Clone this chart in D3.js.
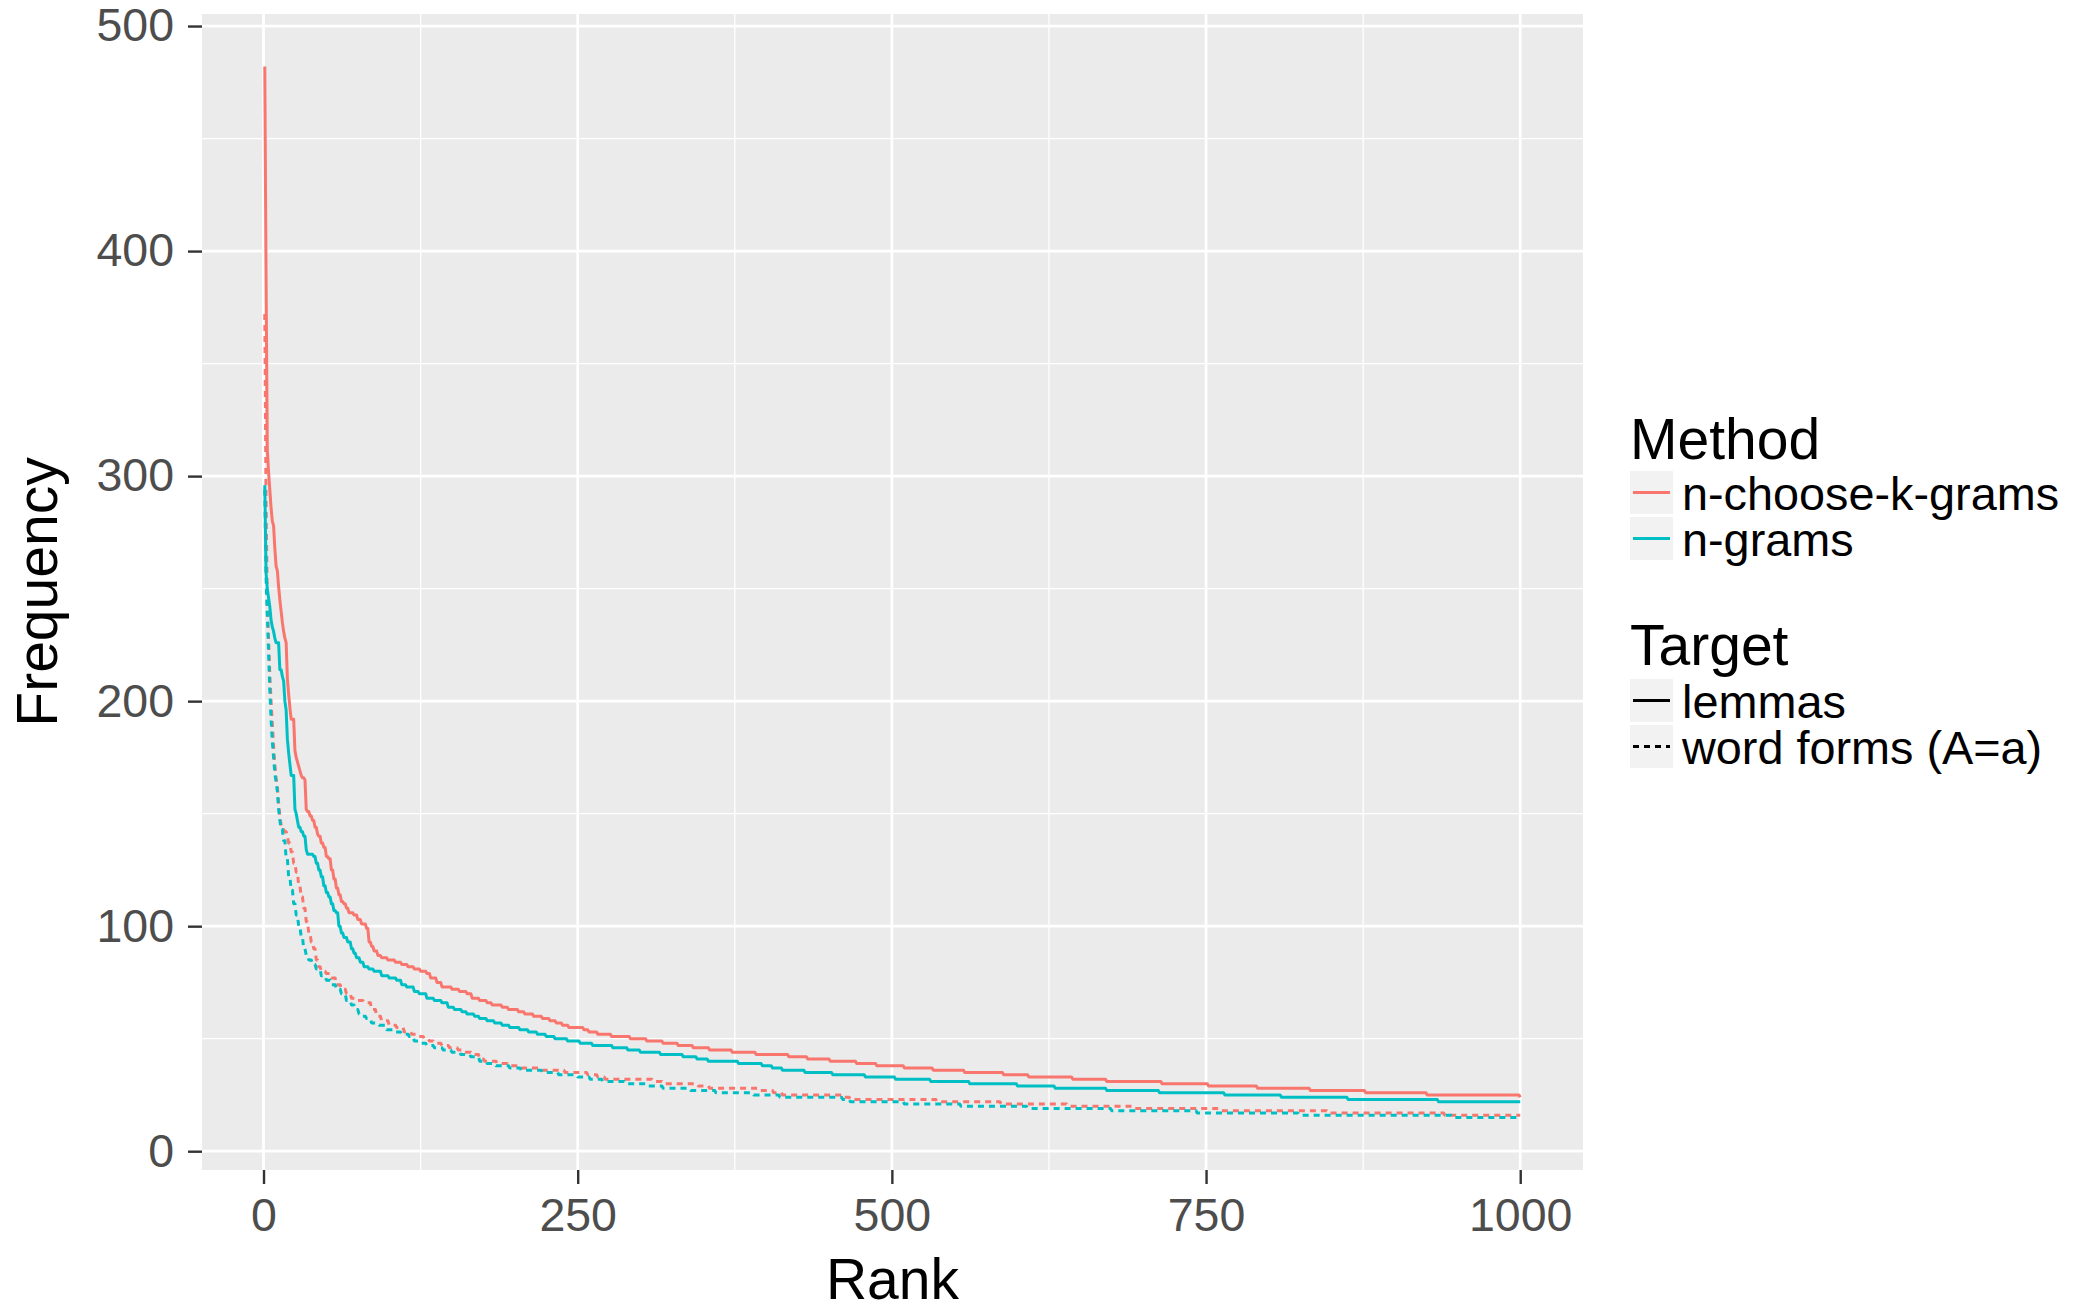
<!DOCTYPE html>
<html>
<head>
<meta charset="utf-8">
<script src="https://cdn.jsdelivr.net/npm/d3@7"></script>
<style>
  html, body { margin: 0; padding: 0; background: #ffffff; }
  svg { display: block; font-family: "Liberation Sans", Arial, Helvetica, sans-serif; }
</style>
</head>
<body>
<svg id="chart" width="2085" height="1307"></svg>
<script>
// Rank-frequency curves: each entry is [rank, frequency] at the rank where the frequency changes.
const ncgLemmas = [[1,482],[2,390],[3,312],[4,302],[5,294],[6,286],[7,280],[8,278],[9,268],[10,260],[11,258],[12,251],[13,245],[14,240],[15,235],[16,231],[17,228],[18,226],[19,210],[20,203],[21,197],[22,192],[25,178],[26,175],[27,173],[28,171],[29,169],[30,167],[31,166],[33,165],[34,152],[35,151],[37,149],[39,147],[41,144],[43,141],[44,140],[46,137],[48,135],[50,131],[52,130],[54,125],[56,121],[58,117],[60,114],[62,111],[64,110],[66,108],[68,106],[72,105],[75,103],[78,101],[82,99],[84,93],[86,91],[88,89],[91,87],[94,86],[99,85],[105,84],[110,83],[115,82],[120,81],[125,80],[130,79],[133,77],[138,75],[142,73],[150,72],[156,71],[162,70],[166,68],[172,67],[178,66],[182,65],[190,64],[195,63],[203,62],[208,61],[215,60],[222,59],[228,58],[233,57],[238,56],[243,55],[255,54],[259,53],[266,52],[277,51],[292,50],[305,49],[318,48],[330,47],[342,46],[355,45],[373,44],[392,43],[418,42],[433,41],[451,40],[472,39],[488,38],[510,37],[533,36],[558,35],[589,34],[609,33],[644,32],[671,31],[715,30],[752,29],[791,28],[833,27],[877,26],[926,25],[1000,24]];

const ncgForms = [[1,372],[2,290],[3,245],[4,228],[5,212],[6,200],[7,190],[8,180],[9,172],[10,166],[11,162],[12,155],[13,149],[14,145],[15,143],[17,142],[19,140],[20,137],[22,133],[24,128],[26,124],[28,118],[30,113],[32,108],[34,102],[36,97],[38,93],[40,90],[42,85],[44,82],[46,80],[50,79],[54,77],[58,74],[62,72],[66,70],[70,68],[74,67],[80,66],[86,63],[90,60],[94,58],[100,56],[106,55],[112,53],[118,52],[122,51],[128,50],[132,49],[136,48],[142,47],[148,46],[155,45],[160,44],[166,43],[172,41],[176,40],[186,39],[195,38],[205,37],[222,36],[240,35],[258,34],[266,33],[272,32],[310,31],[318,30],[346,29],[355,28],[395,27],[406,26],[413,25],[461,24],[467,23],[536,22],[587,21],[640,20],[693,19],[761,18],[847,17],[940,16],[1000,16]];

const ngLemmas = [[1,296],[2,257],[3,250],[4,246],[5,242],[6,236],[7,233],[8,231],[9,228],[10,226],[13,214],[15,211],[16,209],[17,200],[18,196],[19,183],[20,177],[21,172],[22,167],[25,152],[26,150],[27,147],[28,144],[30,142],[32,140],[34,134],[35,132],[40,131],[42,128],[44,125],[46,122],[48,118],[50,115],[52,113],[54,110],[56,107],[58,106],[60,100],[62,97],[64,95],[67,93],[70,90],[72,88],[74,86],[77,84],[80,82],[84,81],[88,80],[94,78],[100,77],[106,76],[110,74],[114,73],[120,71],[124,70],[130,68],[136,67],[142,66],[147,64],[152,63],[158,62],[162,61],[168,60],[172,59],[178,58],[184,57],[190,56],[196,55],[204,54],[211,53],[218,52],[225,51],[232,50],[242,49],[252,48],[262,47],[278,46],[290,45],[300,44],[316,43],[334,42],[345,41],[354,40],[378,39],[397,38],[405,37],[413,36],[431,35],[453,34],[479,33],[503,32],[531,31],[562,30],[600,29],[630,28],[671,27],[713,26],[765,25],[810,24],[863,23],[935,22],[1000,22]];

const ngForms = [[1,294],[2,255],[3,238],[4,222],[5,205],[6,192],[7,182],[8,175],[9,168],[10,164],[11,160],[12,152],[13,147],[14,143],[16,138],[18,130],[20,122],[22,116],[24,110],[26,105],[28,100],[30,95],[32,90],[34,87],[36,85],[39,83],[42,81],[46,78],[50,76],[54,74],[58,72],[62,70],[66,67],[70,65],[73,63],[76,61],[79,60],[82,59],[86,57],[92,56],[98,54],[104,53],[110,52],[116,51],[120,49],[124,48],[130,47],[136,46],[143,45],[150,44],[157,43],[165,42],[172,40],[178,39],[185,38],[196,37],[205,36],[222,35],[235,34],[250,33],[260,32],[270,31],[288,30],[305,29],[318,28],[340,27],[360,26],[390,25],[411,24],[461,23],[467,22],[510,21],[555,20],[608,19],[675,18],[743,17],[824,16],[946,15],[1000,15]];

const xTicks = [0, 250, 500, 750, 1000];
const yTicks = [0, 100, 200, 300, 400, 500];
const xMinor = [125, 375, 625, 875];
const yMinor = [50, 150, 250, 350, 450];

const methods = ["n-choose-k-grams", "n-grams"];
const targets = ["lemmas", "word forms (A=a)"];
const methodColors = ["#F8766D", "#00BFC4"];
const targetDash = [null, "6,5"];

const series = [
  { data: ncgLemmas, method: 0, target: 0 },
  { data: ncgForms,  method: 0, target: 1 },
  { data: ngLemmas,  method: 1, target: 0 },
  { data: ngForms,   method: 1, target: 1 }
];

// Layout
const panel = { left: 202, right: 1583, top: 14, bottom: 1170 };
const axisTextSize = 46.5, titleSize = 57, legendTextSize = 46.8;

const svg = d3.select("#chart");
svg.append("rect").attr("width", 2085).attr("height", 1307).attr("fill", "#ffffff");

// Scales with 5% expansion on both axes
const allPts = series.flatMap(s => s.data);
const xExt = [1, 1000];
const yExt = d3.extent(allPts, d => d[1]);
const xPad = (xExt[1] - xExt[0]) * 0.05, yPad = (yExt[1] - yExt[0]) * 0.05;
const x = d3.scaleLinear().domain([xExt[0] - xPad, xExt[1] + xPad]).range([panel.left, panel.right]);
const y = d3.scaleLinear().domain([yExt[0] - yPad, yExt[1] + yPad]).range([panel.bottom, panel.top]);

// Panel background and grid
svg.append("rect")
  .attr("x", panel.left).attr("y", panel.top)
  .attr("width", panel.right - panel.left).attr("height", panel.bottom - panel.top)
  .attr("fill", "#EBEBEB");

const grid = svg.append("g");
grid.selectAll(".ymin").data(yMinor).join("line")
  .attr("x1", panel.left).attr("x2", panel.right)
  .attr("y1", d => y(d)).attr("y2", d => y(d))
  .attr("stroke", "#ffffff").attr("stroke-width", 1.3);
grid.selectAll(".xmin").data(xMinor).join("line")
  .attr("y1", panel.top).attr("y2", panel.bottom)
  .attr("x1", d => x(d)).attr("x2", d => x(d))
  .attr("stroke", "#ffffff").attr("stroke-width", 1.3);
grid.selectAll(".ymaj").data(yTicks).join("line")
  .attr("x1", panel.left).attr("x2", panel.right)
  .attr("y1", d => y(d)).attr("y2", d => y(d))
  .attr("stroke", "#ffffff").attr("stroke-width", 2.7);
grid.selectAll(".xmaj").data(xTicks).join("line")
  .attr("y1", panel.top).attr("y2", panel.bottom)
  .attr("x1", d => x(d)).attr("x2", d => x(d))
  .attr("stroke", "#ffffff").attr("stroke-width", 2.7);

// Expand change points into consecutive-rank segments (value holds until the next change)
function stepPoints(pts) {
  const out = [pts[0]];
  for (let i = 1; i < pts.length; i++) {
    const prev = pts[i - 1], cur = pts[i];
    if (cur[0] - 1 > prev[0]) out.push([cur[0] - 1, prev[1]]);
    out.push(cur);
  }
  return out;
}

const line = d3.line().x(d => x(d[0])).y(d => y(d[1]));

svg.append("clipPath").attr("id", "panelClip")
  .append("rect").attr("x", panel.left).attr("y", panel.top)
  .attr("width", panel.right - panel.left).attr("height", panel.bottom - panel.top);

const linesG = svg.append("g").attr("clip-path", "url(#panelClip)");
linesG.selectAll("path").data(series).join("path")
  .attr("d", s => line(stepPoints(s.data)))
  .attr("fill", "none")
  .attr("stroke", s => methodColors[s.method])
  .attr("stroke-width", 3)
  .attr("stroke-linejoin", "round")
  .attr("stroke-dasharray", s => targetDash[s.target]);

// Axes
const xAxis = d3.axisBottom(x).tickValues(xTicks).tickSize(14).tickPadding(14).tickFormat(d3.format("d"));
const yAxis = d3.axisLeft(y).tickValues(yTicks).tickSize(14).tickPadding(14).tickFormat(d3.format("d"));

const gx = svg.append("g").attr("transform", `translate(0,${panel.bottom})`).call(xAxis);
const gy = svg.append("g").attr("transform", `translate(${panel.left},0)`).call(yAxis);
[gx, gy].forEach(g => {
  g.select(".domain").remove();
  g.selectAll(".tick line").attr("stroke", "#333333").attr("stroke-width", 2.4);
  g.selectAll(".tick text")
    .attr("fill", "#4D4D4D")
    .style("font-size", axisTextSize + "px")
    .style("font-family", "'Liberation Sans', Arial, Helvetica, sans-serif");
});

// Axis titles
svg.append("text")
  .attr("x", (panel.left + panel.right) / 2).attr("y", 1299)
  .attr("text-anchor", "middle").attr("fill", "#000000")
  .style("font-size", titleSize + "px")
  .text("Rank");

svg.append("text")
  .attr("transform", `translate(57,${(panel.top + panel.bottom) / 2}) rotate(-90)`)
  .attr("text-anchor", "middle").attr("fill", "#000000")
  .style("font-size", titleSize + "px")
  .text("Frequency");

// Legends
const legendX = 1630, keySize = 43, labelX = 1682;
function drawLegend(title, titleY, keyTops, labels, drawKeyLine) {
  const g = svg.append("g");
  g.append("text").attr("x", legendX).attr("y", titleY)
    .attr("fill", "#000000").style("font-size", titleSize + "px").text(title);
  labels.forEach((lab, i) => {
    const top = keyTops[i];
    g.append("rect").attr("x", legendX).attr("y", top)
      .attr("width", keySize).attr("height", keySize).attr("fill", "#F2F2F2");
    drawKeyLine(g, i, top + keySize / 2);
    g.append("text").attr("x", labelX).attr("y", top + keySize / 2 + 17)
      .attr("fill", "#000000").style("font-size", legendTextSize + "px").text(lab);
  });
}

drawLegend("Method", 459, [471, 517], methods, (g, i, cy) => {
  g.append("line").attr("x1", legendX + 3).attr("x2", legendX + keySize - 3)
    .attr("y1", cy).attr("y2", cy)
    .attr("stroke", methodColors[i]).attr("stroke-width", 3);
});

drawLegend("Target", 665, [679, 725], targets, (g, i, cy) => {
  g.append("line").attr("x1", legendX + 3).attr("x2", legendX + keySize - 3)
    .attr("y1", cy).attr("y2", cy)
    .attr("stroke", "#000000").attr("stroke-width", 3)
    .attr("stroke-dasharray", targetDash[i]);
});
</script>
</body>
</html>
